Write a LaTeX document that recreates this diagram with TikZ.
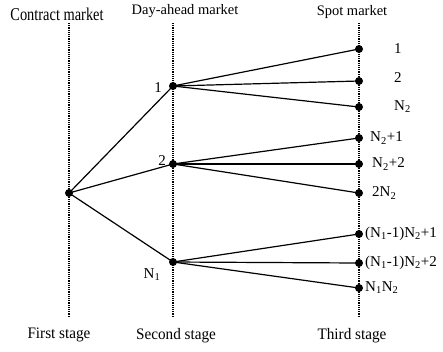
\documentclass[tikz,border=0pt]{standalone}
\usepackage{fontspec}
\setmainfont{Liberation Serif}
\begin{document}
\begin{tikzpicture}[
    x=1pt, y=-1pt,
    stage/.style={densely dotted, line width=1.2pt},
    branch/.style={line width=1.2pt},
    dot/.style={circle, fill=black, inner sep=0pt, minimum size=8pt},
    title/.style={font=\fontsize{14.5}{16}\selectfont, inner sep=0pt, anchor=base},
    footer/.style={font=\fontsize{16}{18}\selectfont, inner sep=0pt, anchor=base, xscale=0.95},
    tag/.style={font=\fontsize{15}{17}\selectfont, inner sep=0pt}
]
    \useasboundingbox (0,0) rectangle (443,351);

    % Stage lines
    \coordinate (l1top) at (69,23);  \coordinate (l1bot) at (69,316);
    \coordinate (l2top) at (173,23); \coordinate (l2bot) at (173,316);
    \coordinate (l3top) at (359,23); \coordinate (l3bot) at (359,316);
    \draw[stage] (l1top) -- (l1bot);
    \draw[stage] (l2top) -- (l2bot);
    \draw[stage] (l3top) -- (l3bot);

    % Market titles
    \node[title, font=\fontsize{18}{20}\selectfont, xscale=0.8] (contract) at (57,20) {Contract market};
    \node[title] (dayahead) at (185,14) {Day-ahead market};
    \node[title] (spot) at (352,15) {Spot market};

    % Stage names
    \node[footer] (first) at (59,338) {First stage};
    \node[footer] (second) at (176,339) {Second stage};
    \node[footer] (third) at (352,339) {Third stage};

    % First stage
    \node[dot] (root) at (69,193) {};

    % Second stage
    \node[dot] (da1) at (173,86) {};
    \node[dot] (da2) at (173,164) {};
    \node[dot] (daN) at (173,262) {};
    \node[tag] (da1tag) at (158,88) {1};
    \node[tag] (da2tag) at (162,161) {2};
    \node[tag] (daNtag) at (152,275) {N\textsubscript{1}};

    % Third stage
    \node[dot] (sp1) at (359,49) {};
    \node[dot] (sp2) at (359,81) {};
    \node[dot] (sp3) at (359,107) {};
    \node[dot] (sp4) at (359,138) {};
    \node[dot] (sp5) at (359,164) {};
    \node[dot] (sp6) at (359,193) {};
    \node[dot] (sp7) at (359,234) {};
    \node[dot] (sp8) at (359,263) {};
    \node[dot] (sp9) at (359,288) {};
    \node[tag, anchor=west] (sp1tag) at (394,49) {1};
    \node[tag, anchor=west] (sp2tag) at (394,78) {2};
    \node[tag, anchor=west] (sp3tag) at (394,107) {N\textsubscript{2}};
    \node[tag, anchor=west] (sp4tag) at (370,138) {N\textsubscript{2}+1};
    \node[tag, anchor=west] (sp5tag) at (372,164) {N\textsubscript{2}+2};
    \node[tag, anchor=west] (sp6tag) at (372,193) {2N\textsubscript{2}};
    \node[tag, anchor=west] (sp7tag) at (365,234) {(N\textsubscript{1}-1)N\textsubscript{2}+1};
    \node[tag, anchor=west] (sp8tag) at (365,263) {(N\textsubscript{1}-1)N\textsubscript{2}+2};
    \node[tag, anchor=west] (sp9tag) at (365,288) {N\textsubscript{1}N\textsubscript{2}};

    % Branches
    \draw[branch] (root.center) -- (da1.center);
    \draw[branch] (root.center) -- (da2.center);
    \draw[branch] (root.center) -- (daN.center);
    \draw[branch] (da1.center) -- (sp1.center);
    \draw[branch] (da1.center) -- (sp2.center);
    \draw[branch] (da1.center) -- (sp3.center);
    \draw[branch] (da2.center) -- (sp4.center);
    \draw[branch] (da2.center) -- (sp5.center);
    \draw[branch] (da2.center) -- (sp6.center);
    \draw[branch] (daN.center) -- (sp7.center);
    \draw[branch] (daN.center) -- (sp8.center);
    \draw[branch] (daN.center) -- (sp9.center);
\end{tikzpicture}
\end{document}
